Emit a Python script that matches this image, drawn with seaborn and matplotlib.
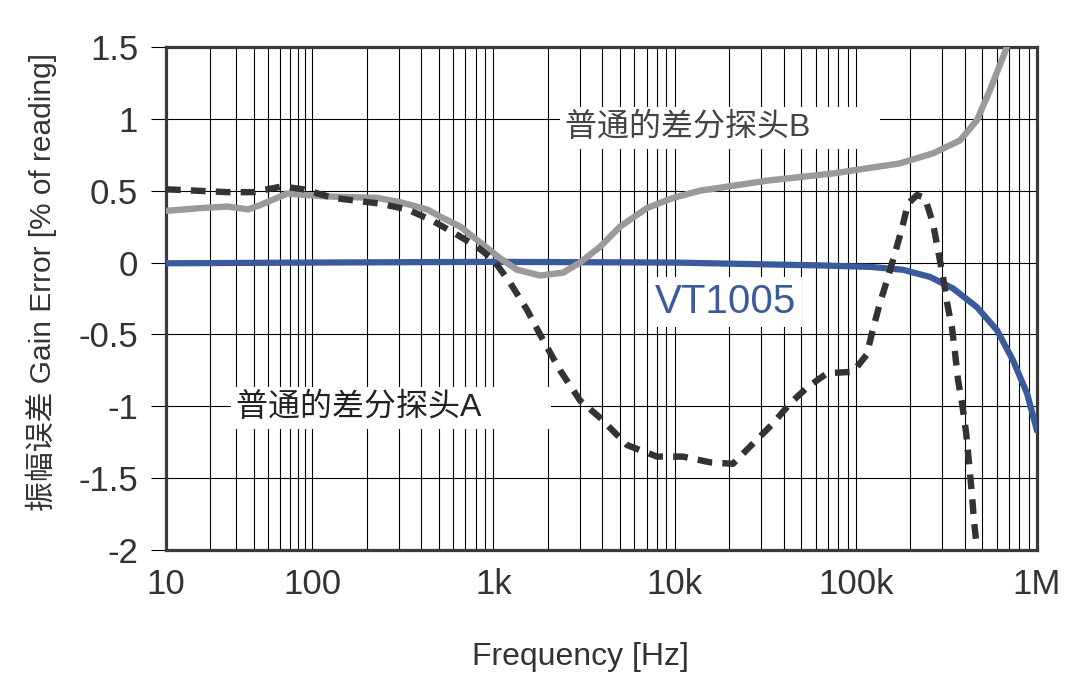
import numpy as np
import pandas as pd
import seaborn as sns
import matplotlib.pyplot as plt
from matplotlib.ticker import FixedLocator, FixedFormatter, NullFormatter

# frequency response data
vt_freq = [10, 100, 1000, 10000, 63500, 120000, 182000, 257000, 344000, 466000, 601000,
           737000, 881000, 1000000]
vt_err = [-0.005, 0.0, 0.005, 0.0, -0.02, -0.03, -0.05, -0.10, -0.18, -0.31, -0.47,
          -0.68, -0.91, -1.17]

b_freq = [10, 17.9, 26.2, 36.5, 44, 67.5, 121, 229, 306, 431, 508, 656, 845, 1089, 1352,
          1811, 2427, 3010, 3882, 5000, 7050, 9810, 13800, 32400, 74800, 175000, 267000,
          376000, 466000, 550000, 649000, 757000]
b_err = [0.36, 0.38, 0.39, 0.37, 0.40, 0.48, 0.46, 0.45, 0.42, 0.37, 0.32, 0.25, 0.14, 0.03,
         -0.05, -0.09, -0.07, 0.0, 0.11, 0.25, 0.38, 0.45, 0.50, 0.57, 0.62, 0.69, 0.76,
         0.85, 0.99, 1.20, 1.43, 1.65]

a_freq = [10, 26.2, 39.4, 62.3, 86.8, 131, 237, 334, 448, 600, 813, 999, 1236, 1535, 1881,
          2334, 3010, 3882, 5470, 8000, 11100, 15700, 21000, 26100, 34900, 43400, 53800,
          69400, 96600, 115000, 124000, 136000, 149000, 165000, 180000, 194000, 218000,
          241000, 267000, 284000, 303000, 319000, 340000, 353000, 367000, 386000, 406000,
          422000, 438000, 449000, 461000]
a_err = [0.51, 0.49, 0.49, 0.53, 0.51, 0.45, 0.41, 0.37, 0.30, 0.21, 0.11, 0.02, -0.14, -0.33,
         -0.54, -0.75, -0.96, -1.08, -1.27, -1.35, -1.35, -1.39, -1.40, -1.28, -1.12, -0.98,
         -0.87, -0.77, -0.76, -0.64, -0.47, -0.28, -0.12, 0.07, 0.24, 0.41, 0.47, 0.45, 0.27,
         0.09, -0.10, -0.28, -0.46, -0.63, -0.82, -0.98, -1.18, -1.40, -1.62, -1.80, -1.93]

x_ticks = [10, 100, 1000, 10000, 100000, 1000000]
x_labels = ["10", "100", "1k", "10k", "100k", "1M"]
y_ticks = [1.5, 1, 0.5, 0, -0.5, -1, -1.5, -2]
y_labels = ["1.5", "1", "0.5", "0", "-0.5", "-1", "-1.5", "-2"]

vt = pd.DataFrame({"freq": vt_freq, "err": vt_err})
probe_b = pd.DataFrame({"freq": b_freq, "err": b_err})
probe_a = pd.DataFrame({"freq": a_freq, "err": a_err})

sns.set_style("white")
plt.rcParams["font.family"] = ["Liberation Sans", "Noto Sans CJK SC"]

# the original chart squeezes the first decade a bit
k = 146 / 181


def fwd(x):
    l = np.log10(np.clip(x, 1e-12, None))
    return np.where(l < 2, 2 - (2 - l) * k, l)


def inv(y):
    return np.where(y < 2, 10 ** (2 - (2 - y) / k), 10 ** y)


fig = plt.figure(figsize=(10.75, 6.93), dpi=100)
ax = fig.add_axes([166 / 1075, 1 - 550 / 693, (1037 - 166) / 1075, (550 - 47) / 693])

sns.lineplot(data=vt, x="freq", y="err", ax=ax, color="#3a5a9c", linewidth=4.5, zorder=3)
sns.lineplot(data=probe_b, x="freq", y="err", ax=ax, color="#9a9a9a", linewidth=4.6, zorder=4)
sns.lineplot(data=probe_a, x="freq", y="err", ax=ax, color="#333333", linewidth=4.6,
             linestyle=(0, (2.3, 1.6)), dash_capstyle="butt", zorder=5)

ax.set_xscale("function", functions=(fwd, inv))
ax.set_xlim(10, 1e6)
ax.set_ylim(-2, 1.5)

minor = [m * 10 ** e for e in range(1, 6) for m in range(2, 10)]
ax.xaxis.set_major_locator(FixedLocator(x_ticks))
ax.xaxis.set_major_formatter(FixedFormatter(x_labels))
ax.xaxis.set_minor_locator(FixedLocator(minor))
ax.xaxis.set_minor_formatter(NullFormatter())
ax.set_yticks(y_ticks)
ax.set_yticklabels(y_labels)

ax.set_axisbelow(True)
ax.grid(which="both", axis="x", color="black", lw=0.8)
ax.grid(which="major", axis="y", color="black", lw=0.8)

ax.tick_params(axis="x", which="both", length=0, pad=13, labelsize=25, labelcolor="#333333")
ax.tick_params(axis="y", length=11, width=0.8, color="black", pad=9, labelsize=25,
               labelcolor="#333333", left=True)
for s in ax.spines.values():
    s.set_color("#3a3a3a")
    s.set_linewidth(2.3)

ax.set_xlabel("Frequency [Hz]", fontsize=23, color="#333333")
ax.xaxis.set_label_coords((580 - 166) / 871, -0.183)
ax.set_ylabel("振幅误差 Gain Error [% of reading]", fontsize=21.5, color="#333333")
ax.yaxis.set_label_coords(-0.125, (550 - 282) / 503)

box = dict(facecolor="white", edgecolor="none", pad=4)
ax.text(2490, 0.936, "普通的差分探头B\u3000\u3000", fontsize=23, color="#444444",
        va="center", ha="left", bbox=box, zorder=1.5)
ax.text(30.2, -1.012, "普通的差分探头A\u3000\u3000", fontsize=23, color="#222222",
        va="center", ha="left", bbox=box, zorder=1.5)
ax.text(7800, -0.275, "VT1005", fontsize=29, color="#3a5a9c",
        va="center", ha="left", bbox=box, zorder=1.5)

fig.savefig("out.png", dpi=100)
